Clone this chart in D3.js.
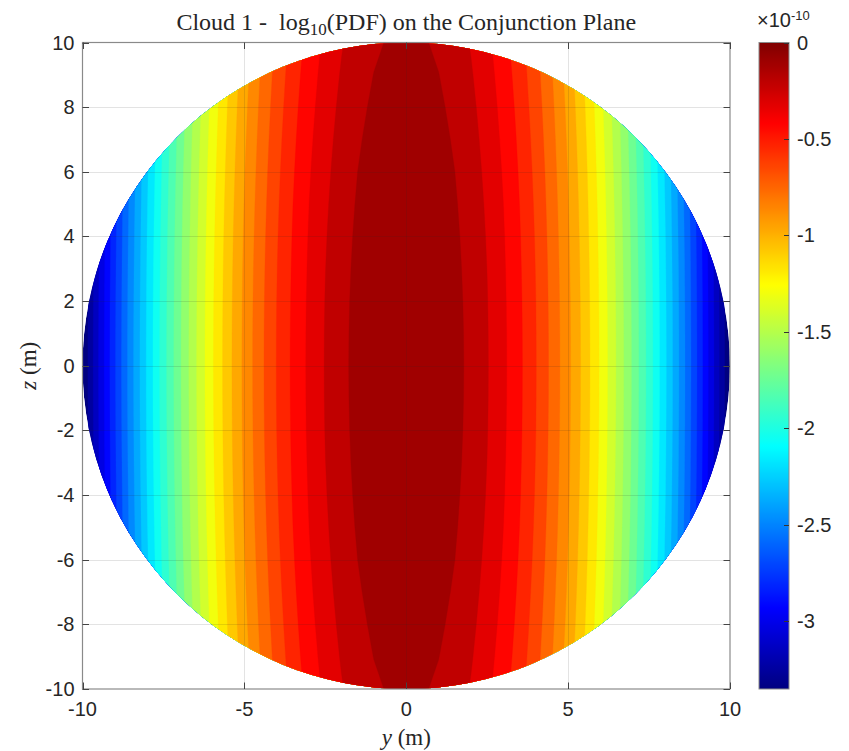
<!DOCTYPE html>
<html>
<head>
<meta charset="utf-8">
<script src="https://cdn.jsdelivr.net/npm/d3@7"></script>
<style>
  body { margin: 0; background: #fff; }
  svg { display: block; }
  .tick-label { font-family: "Liberation Sans", Arial, sans-serif; font-size: 20px; fill: #262626; }
  .serif { font-family: "Liberation Serif", "Times New Roman", serif; fill: #262626; white-space: pre; }
</style>
</head>
<body>
<svg id="chart" width="849" height="751"></svg>
<script>
// ---- data (log10 PDF, units of 1e-10) ------------------------------------
// profile across the plane at z = 0, for y >= 0 (mirrored for y < 0)
var yHalf = [0, 0.5, 1, 1.5, 2, 2.5, 3, 3.5, 4, 4.5, 5, 5.5, 6, 6.5, 7, 7.5, 8, 8.5, 9, 9.5, 10];
var pdfAlongY = [0, -0.0084, -0.0335, -0.0754, -0.134, -0.2094, -0.3015, -0.4104, -0.536, -0.6784,
    -0.8375, -1.0134, -1.206, -1.4154, -1.6415, -1.8844, -2.144, -2.4204, -2.7135, -3.0234, -3.35];
// extra drop along z (mirrored for z < 0)
var zHalf = [0, 1, 2, 3, 4, 5, 6, 7, 8, 9, 10];
var dropAlongZ = [0, -0.0009, -0.0036, -0.0081, -0.0144, -0.0225, -0.0324, -0.0441, -0.0576, -0.0729, -0.09];

var xTicks = [-10, -5, 0, 5, 10];
var yTicks = [-10, -8, -6, -4, -2, 0, 2, 4, 6, 8, 10];
var cbTicks = [0, -0.5, -1, -1.5, -2, -2.5, -3];
var cbMin = -3.35, cbMax = 0;
var levelCount = 30;

// ---- layout ---------------------------------------------------------------
var svg = d3.select("#chart");
var L = 82.5, R = 730, T = 42.5, B = 689;
var cbL = 759, cbR = 789;
var frameColor = "#8a8a8a";

var xScale = d3.scaleLinear().domain([-10, 10]).range([L, R]);
var yScale = d3.scaleLinear().domain([-10, 10]).range([B, T]);
var cScale = d3.scaleLinear().domain([cbMin, cbMax]).range([B, T]);

// matlab jet, 256 entries
function jet(t) {
    t = Math.max(0, Math.min(1, t));
    t = Math.round(t * 255) / 255;
    var cl = (v) => Math.max(0, Math.min(1, v));
    var r = cl(1.5 - Math.abs(4 * t - 3));
    var g = cl(1.5 - Math.abs(4 * t - 2));
    var b = cl(1.5 - Math.abs(4 * t - 1));
    return d3.rgb(r * 255, g * 255, b * 255).toString();
}
var colorOf = (v) => jet((v - cbMin) / (cbMax - cbMin));

// ---- grid of values -------------------------------------------------------
var yNodes = yHalf.slice(1).reverse().map((d) => -d).concat(yHalf);
var yVals = pdfAlongY.slice(1).reverse().concat(pdfAlongY);
var zNodes = zHalf.slice(1).reverse().map((d) => -d).concat(zHalf);
var zVals = dropAlongZ.slice(1).reverse().concat(dropAlongZ);
var nx = yNodes.length, nz = zNodes.length;
var values = [];
for (var j = 0; j < nz; j++) {
    for (var i = 0; i < nx; i++) values.push(yVals[i] + zVals[j]);
}

var levels = d3.range(1, levelCount + 1).map((k) => cbMin + k * (cbMax - cbMin) / (levelCount + 1));

var gx = d3.scaleLinear().domain([0.5, nx - 0.5]).range([yNodes[0], yNodes[nx - 1]]);
var gz = d3.scaleLinear().domain([0.5, nz - 0.5]).range([zNodes[0], zNodes[nz - 1]]);
var path = d3.geoPath(d3.geoTransform({
    point: function (x, y) { this.stream.point(xScale(gx(x)), yScale(gz(y))); }
}));

var contours = d3.contours().size([nx, nz]).thresholds(levels)(values);

// ---- plot -----------------------------------------------------------------
var defs = svg.append("defs");
defs.append("clipPath").attr("id", "disk")
    .append("ellipse")
    .attr("cx", xScale(0)).attr("cy", yScale(0))
    .attr("rx", xScale(10) - xScale(0)).attr("ry", yScale(0) - yScale(10));

var plot = svg.append("g").attr("clip-path", "url(#disk)");
plot.append("ellipse")
    .attr("cx", xScale(0)).attr("cy", yScale(0))
    .attr("rx", xScale(10) - xScale(0)).attr("ry", yScale(0) - yScale(10))
    .attr("fill", colorOf(cbMin));
plot.selectAll("path.band")
    .data(contours)
    .enter().append("path")
    .attr("class", "band")
    .attr("d", path)
    .attr("fill", (d) => colorOf(d.value))
    .attr("stroke", (d) => colorOf(d.value))
    .attr("stroke-width", 0.3);

// grid (drawn on top)
var grid = svg.append("g").attr("stroke", "#262626").attr("stroke-opacity", 0.13).attr("stroke-width", 1);
grid.selectAll("line.gx").data(xTicks.slice(1, -1)).enter().append("line")
    .attr("x1", (d) => Math.round(xScale(d)) + 0.5).attr("x2", (d) => Math.round(xScale(d)) + 0.5)
    .attr("y1", T).attr("y2", B);
grid.selectAll("line.gy").data(yTicks.slice(1, -1)).enter().append("line")
    .attr("y1", (d) => Math.round(yScale(d)) + 0.5).attr("y2", (d) => Math.round(yScale(d)) + 0.5)
    .attr("x1", L).attr("x2", R);

// frame + ticks
svg.append("rect").attr("x", L).attr("y", T).attr("width", R - L).attr("height", B - T)
    .attr("fill", "none").attr("stroke", frameColor).attr("stroke-width", 1.2);

var tk = 6.5;
var ticks = svg.append("g").attr("stroke", "#444").attr("stroke-width", 1);
xTicks.forEach(function (d) {
    var x = Math.round(xScale(d)) + 0.5;
    ticks.append("line").attr("x1", x).attr("x2", x).attr("y1", B).attr("y2", B - tk);
    ticks.append("line").attr("x1", x).attr("x2", x).attr("y1", T).attr("y2", T + tk);
});
yTicks.forEach(function (d) {
    var y = Math.round(yScale(d)) + 0.5;
    ticks.append("line").attr("y1", y).attr("y2", y).attr("x1", L).attr("x2", L + tk);
    ticks.append("line").attr("y1", y).attr("y2", y).attr("x1", R).attr("x2", R - tk);
});

svg.selectAll("text.xt").data(xTicks).enter().append("text")
    .attr("class", "tick-label")
    .attr("x", (d) => xScale(d)).attr("y", B + 27)
    .attr("text-anchor", "middle")
    .text((d) => d);
svg.selectAll("text.yt").data(yTicks).enter().append("text")
    .attr("class", "tick-label")
    .attr("x", L - 8).attr("y", (d) => yScale(d) + 7)
    .attr("text-anchor", "end")
    .text((d) => d);

// ---- titles ---------------------------------------------------------------
var title = svg.append("text").attr("class", "serif")
    .attr("x", xScale(0)).attr("y", 30).attr("text-anchor", "middle").attr("font-size", 24);
title.append("tspan").text("Cloud 1 -  log");
title.append("tspan").attr("font-size", 17).attr("dy", 5).text("10");
title.append("tspan").attr("dy", -5).text("(PDF) on the Conjunction Plane");

var xl = svg.append("text").attr("class", "serif")
    .attr("x", xScale(0)).attr("y", 745).attr("text-anchor", "middle").attr("font-size", 23);
xl.append("tspan").attr("font-style", "italic").text("y");
xl.append("tspan").text(" (m)");

var yl = svg.append("text").attr("class", "serif")
    .attr("transform", "translate(36," + yScale(0) + ") rotate(-90)")
    .attr("text-anchor", "middle").attr("font-size", 23);
yl.append("tspan").attr("font-style", "italic").text("z");
yl.append("tspan").text(" (m)");

// ---- colorbar -------------------------------------------------------------
var grad = defs.append("linearGradient").attr("id", "jetgrad")
    .attr("x1", 0).attr("y1", 1).attr("x2", 0).attr("y2", 0);
grad.selectAll("stop").data(d3.range(0, 256)).enter().append("stop")
    .attr("offset", (d) => d / 255)
    .attr("stop-color", (d) => jet(d / 255));

svg.append("rect").attr("x", cbL).attr("y", T).attr("width", cbR - cbL).attr("height", B - T)
    .attr("fill", "url(#jetgrad)").attr("stroke", frameColor).attr("stroke-width", 1);

svg.selectAll("line.cbt").data(cbTicks).enter().append("line")
    .attr("x1", cbR).attr("x2", cbR - 5)
    .attr("y1", (d) => Math.round(cScale(d)) + 0.5).attr("y2", (d) => Math.round(cScale(d)) + 0.5)
    .attr("stroke", "#333").attr("stroke-width", 1);
svg.selectAll("text.cbl").data(cbTicks).enter().append("text")
    .attr("class", "tick-label")
    .attr("x", cbR + 8).attr("y", (d) => cScale(d) + 7)
    .text((d) => d);

var exp = svg.append("text").attr("class", "tick-label")
    .attr("x", 757).attr("y", 27).attr("font-size", 17);
exp.append("tspan").text("\u00d710");
exp.append("tspan").attr("font-size", 13).attr("dy", -7).text("-10");
</script>
</body>
</html>
